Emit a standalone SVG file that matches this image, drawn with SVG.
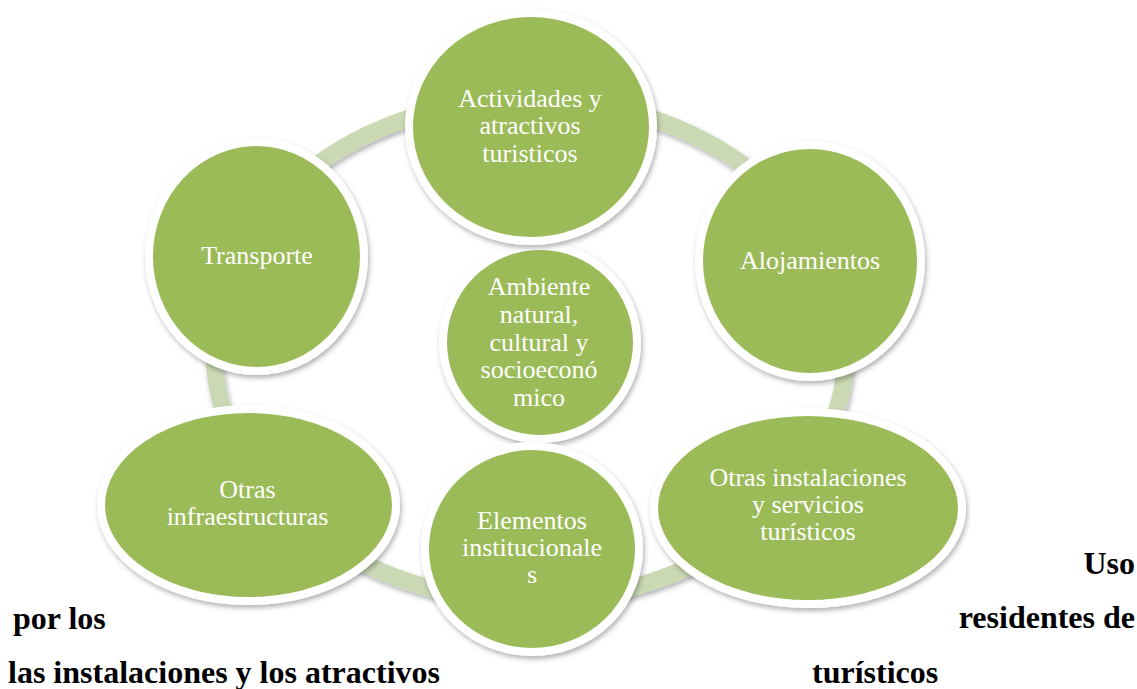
<svg xmlns="http://www.w3.org/2000/svg" width="1137" height="689" viewBox="0 0 1137 689">
<defs>
<filter id="sh" x="-20%" y="-20%" width="140%" height="140%">
<feDropShadow dx="1.5" dy="3" stdDeviation="2.5" flood-color="#000" flood-opacity="0.3"/>
</filter>
<style>
.node{fill:#9bbb59;stroke:#ffffff;stroke-width:8;filter:url(#sh)}
.lbl{font-family:"Liberation Serif","Times New Roman",serif;font-size:26px;fill:#ffffff;text-anchor:middle}
.body{font-family:"Liberation Serif","Times New Roman",serif;font-size:32px;font-weight:bold;fill:#000000}
.ring{fill:none;stroke:#cad9b4;stroke-width:17;filter:url(#sh)}
</style>
</defs>
<rect width="1137" height="689" fill="#ffffff"/>
<g id="connectors">
<ellipse class="ring" cx="530" cy="350" rx="316" ry="251"/>
</g>
<g id="node-ambiente">
<ellipse class="node" cx="540" cy="342.5" rx="97" ry="96.5"/>
<text class="lbl" x="539" y="295">Ambiente</text>
<text class="lbl" x="539" y="323">natural,</text>
<text class="lbl" x="539" y="351">cultural y</text>
<text class="lbl" x="539" y="378">socioeconó</text>
<text class="lbl" x="539" y="406">mico</text>
</g>
<g id="node-actividades">
<ellipse class="node" cx="531" cy="127" rx="122" ry="114"/>
<text class="lbl" x="530" y="107">Actividades y</text>
<text class="lbl" x="530" y="134">atractivos</text>
<text class="lbl" x="530" y="162">turisticos</text>
</g>
<g id="node-alojamientos">
<ellipse class="node" cx="810" cy="261" rx="111" ry="116"/>
<text class="lbl" x="810" y="269">Alojamientos</text>
</g>
<g id="node-otras-instalaciones">
<ellipse class="node" cx="808" cy="508" rx="154" ry="96"/>
<text class="lbl" x="808" y="486">Otras instalaciones</text>
<text class="lbl" x="808" y="513">y servicios</text>
<text class="lbl" x="808" y="540">turísticos</text>
</g>
<g id="node-elementos">
<ellipse class="node" cx="532" cy="549" rx="107" ry="103"/>
<text class="lbl" x="532" y="529">Elementos</text>
<text class="lbl" x="532" y="556">institucionale</text>
<text class="lbl" x="532" y="583">s</text>
</g>
<g id="node-otras-infraestructuras">
<ellipse class="node" cx="248.5" cy="505" rx="147.5" ry="96"/>
<text class="lbl" x="247.5" y="498">Otras</text>
<text class="lbl" x="247.5" y="525">infraestructuras</text>
</g>
<g id="node-transporte">
<ellipse class="node" cx="256.5" cy="256.5" rx="107.5" ry="114.5"/>
<text class="lbl" x="257" y="264">Transporte</text>
</g>
<g id="caption">
<text class="body" x="1135" y="574" text-anchor="end">Uso</text>
<text class="body" x="13" y="629">por los</text>
<text class="body" x="1135" y="628" text-anchor="end">residentes de</text>
<text class="body" x="8" y="683">las instalaciones y los atractivos</text>
<text class="body" x="812" y="683">turísticos</text>
</g>
</svg>
